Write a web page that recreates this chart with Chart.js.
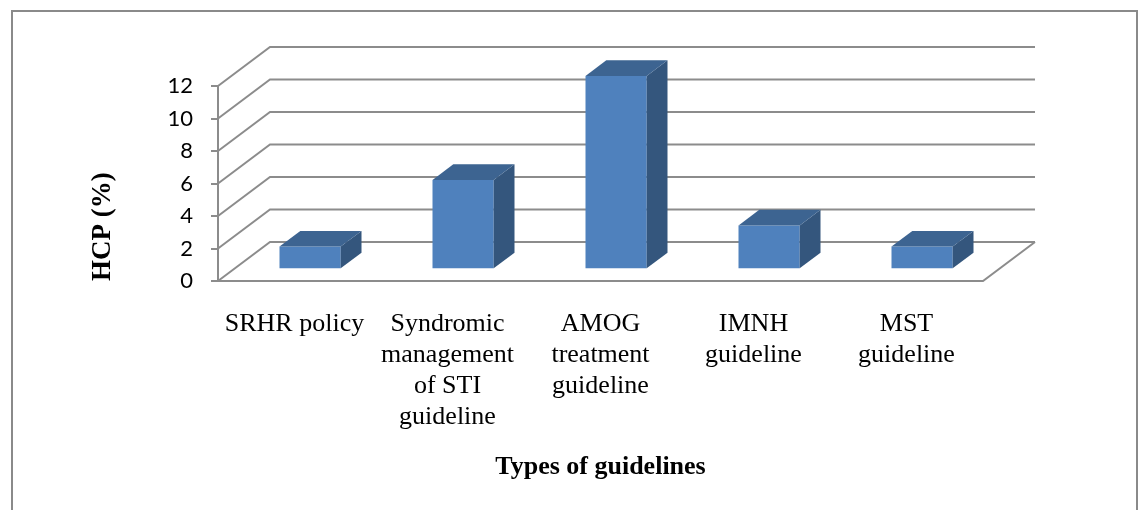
<!DOCTYPE html>
<html>
<head>
<meta charset="utf-8">
<title>HCP (%) by type of guideline</title>
<script src="https://cdn.jsdelivr.net/npm/chart.js@4.4.1/dist/chart.umd.min.js"></script>
<style>
  html, body { margin: 0; padding: 0; background: #ffffff; }
  #wrap { width: 1145px; height: 510px; }
</style>
</head>
<body>
<div id="wrap"><canvas id="chart" width="1145" height="510"></canvas></div>
<script>
// Guideline categories (multi-line labels) and share of health care providers (%)
const categories = [
  ['SRHR policy'],
  ['Syndromic', 'management', 'of STI', 'guideline'],
  ['AMOG', 'treatment', 'guideline'],
  ['IMNH', 'guideline'],
  ['MST', 'guideline']
];
const hcpPercent = [1.4, 5.5, 11.9, 2.7, 1.4];
const yTickValues = [0, 2, 4, 6, 8, 10, 12];

// Styling
const GRID = '#8c8c8c';
const FRONT = '#4f81bd';
const SIDE = '#34567d';
const TOP = '#3d6491';
const DEPTH = { dx: 52, dy: -39 };   // projection of the full floor depth
const BAR_FRONT = 0.3, BAR_BACK = 0.7; // bar slab position within the depth

// Draws the frame around the whole figure
const frame = {
  id: 'frame',
  beforeDraw(chart) {
    const ctx = chart.ctx;
    ctx.save();
    ctx.fillStyle = '#ffffff';
    ctx.fillRect(0, 0, chart.width, chart.height);
    ctx.strokeStyle = '#8a8a8a';
    ctx.lineWidth = 2;
    ctx.beginPath();
    ctx.moveTo(12, chart.height + 5);
    ctx.lineTo(12, 11);
    ctx.lineTo(1137, 11);
    ctx.lineTo(1137, chart.height + 5);
    ctx.stroke();
    ctx.restore();
  }
};

// Back wall, side wall and floor, plus the depth faces of each column
const box3d = {
  id: 'box3d',
  beforeDatasetsDraw(chart) {
    const { ctx, chartArea: { left, right, bottom }, scales: { y } } = chart;
    const { dx, dy } = DEPTH;
    ctx.save();
    ctx.strokeStyle = GRID;
    ctx.lineWidth = 2;
    y.ticks.forEach(t => {
      const py = y.getPixelForValue(t.value);
      ctx.beginPath();
      ctx.moveTo(left, py);
      ctx.lineTo(left + dx, py + dy);
      ctx.lineTo(right + dx, py + dy);
      ctx.stroke();
    });
    ctx.beginPath();
    ctx.moveTo(right + dx, bottom + dy);
    ctx.lineTo(right, bottom);
    ctx.lineTo(left, bottom);
    ctx.stroke();
    ctx.restore();
    // shift the column fronts into the middle of the floor depth
    ctx.save();
    ctx.translate(dx * BAR_FRONT, dy * BAR_FRONT);
  },
  afterDatasetsDraw(chart) {
    const ctx = chart.ctx;
    ctx.restore();
    const fx = DEPTH.dx * BAR_FRONT, fy = DEPTH.dy * BAR_FRONT;
    const bx = DEPTH.dx * (BAR_BACK - BAR_FRONT), by = DEPTH.dy * (BAR_BACK - BAR_FRONT);
    const meta = chart.getDatasetMeta(0);
    ctx.save();
    meta.data.forEach(bar => {
      const { x, y, base, width } = bar.getProps(['x', 'y', 'base', 'width'], true);
      const x0 = x - width / 2 + fx, x1 = x + width / 2 + fx;
      const yt = y + fy, yb = base + fy;
      ctx.fillStyle = SIDE;
      ctx.beginPath();
      ctx.moveTo(x1, yt);
      ctx.lineTo(x1 + bx, yt + by);
      ctx.lineTo(x1 + bx, yb + by);
      ctx.lineTo(x1, yb);
      ctx.closePath();
      ctx.fill();
      ctx.fillStyle = TOP;
      ctx.beginPath();
      ctx.moveTo(x0, yt);
      ctx.lineTo(x0 + bx, yt + by);
      ctx.lineTo(x1 + bx, yt + by);
      ctx.lineTo(x1, yt);
      ctx.closePath();
      ctx.fill();
    });
    ctx.restore();
  }
};

new Chart(document.getElementById('chart'), {
  type: 'bar',
  data: {
    labels: categories,
    datasets: [{
      label: 'HCP (%)',
      data: hcpPercent,
      backgroundColor: FRONT,
      borderWidth: 0,
      barPercentage: 0.4,
      categoryPercentage: 1.0,
      clip: false
    }]
  },
  options: {
    responsive: false,
    animation: false,
    layout: { padding: { top: 86, right: 162, left: 0, bottom: 0 } },
    plugins: { legend: { display: false }, tooltip: { enabled: false } },
    scales: {
      x: {
        grid: { display: false },
        border: { display: false },
        ticks: {
          color: '#000000',
          font: { family: '"Liberation Serif", "Times New Roman", serif', size: 26, lineHeight: 1.19 },
          padding: 20,
          maxRotation: 0,
          minRotation: 0,
          autoSkip: false
        },
        title: {
          display: true,
          text: 'Types of guidelines',
          color: '#000000',
          font: { family: '"Liberation Serif", "Times New Roman", serif', size: 26, weight: 'bold', lineHeight: 1.2 },
          padding: { top: 0, bottom: 27 }
        },
        afterFit(scale) { scale.height = 229; }
      },
      y: {
        min: 0,
        max: 12,
        afterBuildTicks(scale) { scale.ticks = yTickValues.map(v => ({ value: v })); },
        grid: { drawOnChartArea: false, drawTicks: true, tickLength: 7, color: GRID, lineWidth: 2 },
        border: { display: true, color: GRID, width: 2 },
        ticks: {
          color: '#000000',
          font: { family: 'Lato, "Liberation Sans", sans-serif', size: 22 },
          padding: 18
        },
        title: {
          display: true,
          text: 'HCP (%)',
          align: 'start',
          color: '#000000',
          font: { family: '"Liberation Serif", "Times New Roman", serif', size: 27, weight: 'bold', lineHeight: 1.2 },
          padding: { top: 87, bottom: 0 }
        },
        afterFit(scale) { scale.width = 218; }
      }
    }
  },
  plugins: [frame, box3d]
});
</script>
</body>
</html>
